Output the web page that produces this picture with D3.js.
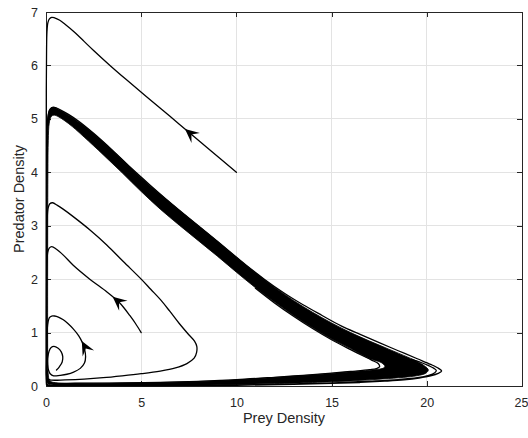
<!DOCTYPE html>
<html>
<head>
<meta charset="utf-8">
<script src="https://cdn.jsdelivr.net/npm/d3@7"></script>
<style>
  html, body { margin: 0; padding: 0; background: #fff; }
  svg { display: block; }
</style>
</head>
<body>
<svg id="chart" width="528" height="438"></svg>
<script>
// ---- axis setup ----
const xTicks = [0, 5, 10, 15, 20, 25];
const yTicks = [0, 1, 2, 3, 4, 5, 6, 7];
const xLabel = "Prey Density";
const yLabel = "Predator Density";

// ---- trajectories (prey, predator) ----
// orbit started at (10, 4), spiralling in from outside the cycle
const trajA = [
  [10,4],[8.5,4.45],[7,4.9],[5.5,5.35],[4.2,5.74],[3.36,6.0],[2.5,6.28],[2.0,6.45],
  [1.5,6.62],[1.0,6.77],[0.7,6.85],[0.45,6.89],[0.3,6.9],[0.18,6.87],[0.1,6.8],
  [0.05,6.62],[0.03,6.3],[0.015,5.5],[0.01,4],[0.008,2],[0.008,0.5],[0.012,0.1],
  [0.05,0.012],[0.3,0.004],[2,0.003],[6,0.005],[10,0.012],[13,0.03],[15,0.048],
  [16.5,0.066],[17.8,0.09],[18.8,0.115],[19.6,0.15],[20.2,0.19],[20.6,0.235],
  [20.78,0.28],[20.62,0.33],[20.2,0.405],[19.5,0.51],[18.5,0.66],[17.5,0.81],
  [16.5,0.965],[15.5,1.125],[14.5,1.32],[13.5,1.52],[12.5,1.74],[11.5,1.99],
  [10.5,2.265],[9.5,2.56],[8.5,2.855],[7.5,3.145],[6.5,3.44],[5.5,3.75],[4.5,4.07],
  [3.5,4.41],[2.5,4.73],[1.7,4.96],[1.2,5.08],[0.8,5.16],[0.5,5.21],[0.3,5.21],
  [0.17,5.15],[0.09,5.0],[0.05,4.6],[0.03,3.8],[0.02,2.5],[0.015,1.0],[0.02,0.2],
  [0.06,0.03],[0.3,0.012],[2,0.008],[6,0.01],[10,0.02],[13,0.04],[15,0.058],
  [17,0.09],[18.5,0.12],[19.5,0.155],[20.1,0.2],[20.42,0.25],[20.5,0.29],
  [20.38,0.33],[20.1,0.38],[19.7,0.44],[19.2,0.5]
];

// orbit started at (5, 1), spiralling out towards the cycle
const trajB = [
  [5.0,1.0],[4.7,1.17],[4.4,1.32],[4.1,1.46],[3.8,1.58],[3.2,1.76],[2.3,2.0],
  [1.43,2.26],[0.91,2.45],[0.55,2.56],[0.3,2.61],[0.17,2.58],[0.09,2.5],[0.05,2.25],
  [0.035,1.7],[0.03,1.0],[0.03,0.45],[0.04,0.2],[0.09,0.13],[0.3,0.11],[1.0,0.115],
  [2.0,0.13],[3.0,0.155],[4.0,0.19],[5.0,0.23],[6.0,0.28],[6.8,0.34],[7.4,0.42],
  [7.78,0.52],[7.91,0.63],[7.92,0.74],[7.8,0.84],[7.5,0.96],[7.0,1.17],[6.5,1.40],
  [6.0,1.62],[5.5,1.81],[5.0,2.0],[4.06,2.33],[3.19,2.64],[2.31,2.92],[1.43,3.17],
  [0.9,3.31],[0.6,3.38],[0.35,3.43],[0.2,3.41],[0.11,3.33],[0.06,3.1],[0.04,2.5],
  [0.03,1.5],[0.03,0.6],[0.04,0.15],[0.1,0.07],[0.4,0.055],[2.0,0.052],[4.0,0.057],
  [6.0,0.067],[8.0,0.088],[10.0,0.118],[12.0,0.163],[13.5,0.2],[15.0,0.242],
  [16.0,0.272],[17.0,0.305],[17.35,0.325],[17.52,0.36],[17.45,0.42],[17.1,0.485],
  [16.5,0.59],[16.0,0.68],[15.0,0.865],[14.0,1.075],[13.0,1.305],[12.0,1.555],[11.0,1.83]
];

// small orbit near the interior equilibrium
const trajC = [
  [0.55,0.30],[0.7,0.36],[0.85,0.45],[0.88,0.55],[0.8,0.64],[0.62,0.71],[0.42,0.74],
  [0.27,0.72],[0.16,0.65],[0.09,0.52],[0.09,0.4],[0.13,0.3],[0.22,0.23],[0.4,0.19],
  [0.74,0.2],[1.1,0.22],[1.45,0.26],[1.8,0.33],[2.02,0.43],[2.08,0.55],[2.03,0.68],
  [1.9,0.82],[1.72,0.94],[1.43,1.07],[1.15,1.17],[0.91,1.24],[0.65,1.29],[0.45,1.31],
  [0.3,1.31],[0.18,1.28],[0.11,1.2],[0.07,1.08],[0.05,0.85],[0.045,0.55],[0.05,0.35]
];

// limit cycle band: outer and inner envelope of the settled orbits
const cycleOuter = [
  [20.08,0.30],[19.9,0.37],[19.5,0.46],[19.0,0.54],[18.0,0.69],[17.0,0.84],[16.0,1.0],
  [15.0,1.18],[14.0,1.38],[13.0,1.60],[12.0,1.85],[11.0,2.12],[10.0,2.41],[9.0,2.71],
  [8.0,3.0],[7.0,3.29],[6.0,3.59],[5.0,3.90],[4.0,4.24],[3.0,4.57],[2.0,4.87],
  [1.4,5.02],[1.0,5.11],[0.6,5.19],[0.38,5.22],[0.22,5.19],[0.12,5.08],[0.06,4.8],
  [0.035,4.2],[0.025,3.0],[0.02,1.5],[0.02,0.5],[0.03,0.15],[0.1,0.04],[0.4,0.018],
  [2.0,0.012],[5.0,0.013],[8.0,0.02],[10.0,0.03],[12.0,0.045],[14.0,0.065],[15.0,0.08],
  [16.0,0.095],[17.0,0.115],[18.0,0.14],[19.0,0.17],[19.6,0.2],[19.95,0.24]
];
const cycleInner = [
  [17.8,0.37],[17.6,0.44],[17.0,0.51],[16.0,0.70],[15.0,0.88],[14.0,1.09],[13.0,1.32],
  [12.0,1.57],[11.0,1.84],[10.0,2.13],[9.0,2.43],[8.0,2.72],[7.0,3.01],[6.0,3.31],
  [5.0,3.64],[4.0,3.99],[3.0,4.33],[2.0,4.66],[1.4,4.85],[1.0,4.96],[0.65,5.04],
  [0.42,5.07],[0.27,5.04],[0.17,4.92],[0.12,4.6],[0.1,4.0],[0.09,3.0],[0.085,1.5],
  [0.09,0.6],[0.11,0.25],[0.2,0.1],[0.5,0.06],[2.0,0.05],[4.0,0.055],[6.0,0.065],
  [8.0,0.085],[10.0,0.115],[12.0,0.16],[13.5,0.195],[15.0,0.235],[16.0,0.265],
  [17.0,0.295],[17.5,0.315],[17.75,0.34]
];

// direction arrows: which orbit, and where the arrow tip sits
const arrowOrbit = ["A", "B", "C"];
const arrowAt = [[7.3, 4.81], [3.5, 1.67], [1.88, 0.84]];

// ---- drawing ----
const W = 528, H = 438;
const margin = { left: 46, right: 6, top: 12, bottom: 52 };
const svg = d3.select("#chart");
const x = d3.scaleLinear().domain([0, 25]).range([margin.left, W - margin.right]);
const y = d3.scaleLinear().domain([0, 7]).range([H - margin.bottom, margin.top]);
const [xa, xb] = x.range();
const [ya, yb] = y.range();
const axisColor = "#262626";
const font = "'Liberation Sans', Arial, Helvetica, sans-serif";
const fmt = d3.format("d");

// grid
const grid = svg.append("g").attr("shape-rendering", "crispEdges");
grid.selectAll("line.gx").data(xTicks.slice(1, -1)).join("line")
  .attr("class", "gx")
  .attr("x1", d => x(d)).attr("x2", d => x(d)).attr("y1", yb).attr("y2", ya)
  .attr("stroke", "#e3e3e3").attr("stroke-width", 1);
grid.selectAll("line.gy").data(yTicks.slice(1, -1)).join("line")
  .attr("class", "gy")
  .attr("y1", d => y(d)).attr("y2", d => y(d)).attr("x1", xa).attr("x2", xb)
  .attr("stroke", "#e3e3e3").attr("stroke-width", 1);

function styleAxis(g, showText) {
  g.attr("shape-rendering", "crispEdges");
  g.select(".domain").attr("stroke", axisColor).attr("stroke-width", 1);
  g.selectAll(".tick line").attr("stroke", axisColor).attr("stroke-width", 1);
  g.selectAll(".tick text")
    .attr("fill", axisColor)
    .attr("font-family", font)
    .attr("font-size", 12.5)
    .style("display", showText ? null : "none");
}

svg.append("g").attr("transform", `translate(0,${ya})`)
  .call(d3.axisBottom(x).tickValues(xTicks).tickFormat(fmt).tickSizeInner(-5).tickSizeOuter(0).tickPadding(12))
  .call(g => styleAxis(g, true));
svg.append("g").attr("transform", `translate(0,${yb})`)
  .call(d3.axisTop(x).tickValues(xTicks).tickSizeInner(-5).tickSizeOuter(0))
  .call(g => styleAxis(g, false));
svg.append("g").attr("transform", `translate(${xa},0)`)
  .call(d3.axisLeft(y).tickValues(yTicks).tickFormat(fmt).tickSizeInner(-5).tickSizeOuter(0).tickPadding(8))
  .call(g => styleAxis(g, true));
svg.append("g").attr("transform", `translate(${xb},0)`)
  .call(d3.axisRight(y).tickValues(yTicks).tickSizeInner(-5).tickSizeOuter(0))
  .call(g => styleAxis(g, false));

// keep the last bottom label inside the page edge
svg.selectAll("text").filter(function () { return this.textContent === "25"; })
  .attr("dx", -1);

// axis labels
svg.append("text")
  .attr("x", (xa + xb) / 2).attr("y", 423)
  .attr("text-anchor", "middle")
  .attr("font-family", font).attr("font-size", 14.5).attr("fill", axisColor)
  .text(xLabel);
svg.append("text")
  .attr("transform", `translate(24,${(ya + yb) / 2}) rotate(-90)`)
  .attr("text-anchor", "middle")
  .attr("font-family", font).attr("font-size", 14.5).attr("fill", axisColor)
  .text(yLabel);

// curves
const line = d3.line().x(d => x(d[0])).y(d => y(d[1])).curve(d3.curveCatmullRom.alpha(0.5));
const loop = d3.line().x(d => x(d[0])).y(d => y(d[1])).curve(d3.curveCatmullRomClosed.alpha(0.5));

const data = svg.append("g");

// filled band of the limit cycle
data.append("path")
  .attr("d", loop(cycleOuter) + loop(cycleInner))
  .attr("fill", "#000").attr("fill-rule", "evenodd")
  .attr("stroke", "#000").attr("stroke-width", 0.8).attr("stroke-linejoin", "round");

const orbits = { A: trajA, B: trajB, C: trajC };
data.selectAll("path.orbit").data(Object.values(orbits)).join("path")
  .attr("class", "orbit")
  .attr("d", line)
  .attr("fill", "none").attr("stroke", "#000").attr("stroke-width", 1.3)
  .attr("stroke-linejoin", "round").attr("stroke-linecap", "round");

// arrowheads, oriented along the nearest orbit segment
function heading(pts, at) {
  const px = pts.map(p => [x(p[0]), y(p[1])]);
  const q = [x(at[0]), y(at[1])];
  let best = 0, bestD = Infinity;
  for (let i = 0; i < px.length - 1; i++) {
    const [ax, ay] = px[i], [bx, by] = px[i + 1];
    const dx = bx - ax, dy = by - ay;
    const t = Math.max(0, Math.min(1, ((q[0] - ax) * dx + (q[1] - ay) * dy) / (dx * dx + dy * dy)));
    const d = Math.hypot(ax + t * dx - q[0], ay + t * dy - q[1]);
    if (d < bestD) { bestD = d; best = i; }
  }
  const a = px[best], b = px[best + 1];
  return Math.atan2(b[1] - a[1], b[0] - a[0]) * 180 / Math.PI;
}
const L = 14, HW = 6.5;
const head = `M0,0L${-L},${-HW}L${-0.6 * L},0L${-L},${HW}Z`;
data.selectAll("path.arrow").data(arrowAt.map((p, i) => ({ p, o: arrowOrbit[i] }))).join("path")
  .attr("class", "arrow")
  .attr("d", head)
  .attr("transform", d => `translate(${x(d.p[0])},${y(d.p[1])}) rotate(${heading(orbits[d.o], d.p)})`)
  .attr("fill", "#000");
</script>
</body>
</html>
